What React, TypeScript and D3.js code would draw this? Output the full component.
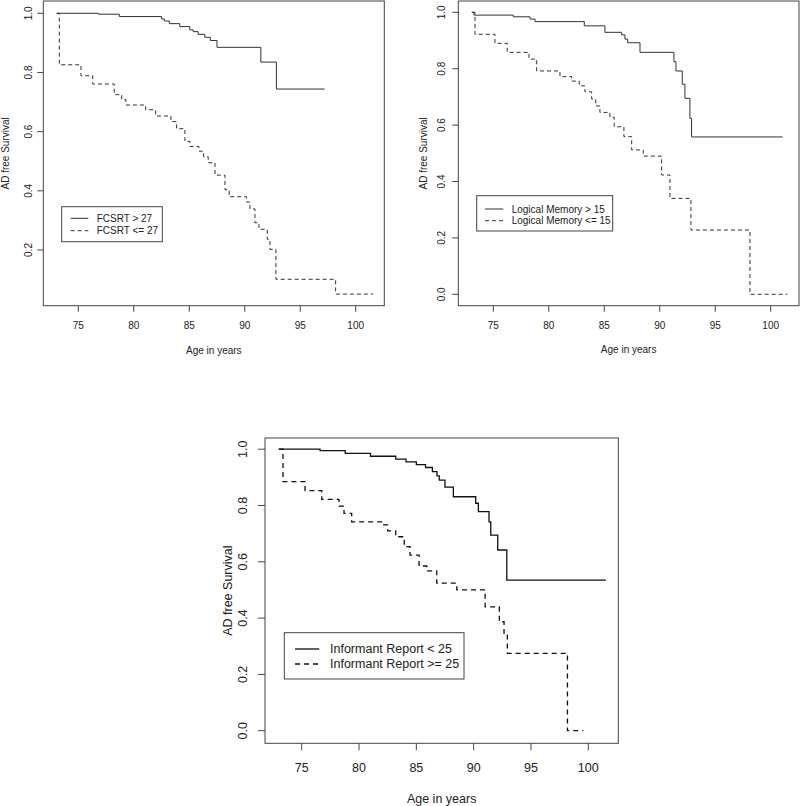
import React from "react";
import * as d3 from "d3";

// ---------- data ----------
const ageTicks = [75, 80, 85, 90, 95, 100];
const survTicksA = [0.2, 0.4, 0.6, 0.8, 1.0];
const survTicksB = [0.0, 0.2, 0.4, 0.6, 0.8, 1.0];

// Panel 1: FCSRT
const fcsrtHighAge = [73.05, 76.8, 78.7, 82.5, 82.75, 83.2, 84.15, 85.05, 85.35, 85.8, 86.4, 86.9, 87.5, 91.45, 92.85];
const fcsrtHighSurv = [1.0, 0.997, 0.989, 0.981, 0.974, 0.965, 0.955, 0.944, 0.938, 0.929, 0.919, 0.908, 0.885, 0.835, 0.744];
const fcsrtHighEnd = 97.2;
const fcsrtLowAge = [73.05, 73.29, 75.24, 76.3, 78.24, 78.91, 79.3, 81.07, 81.97, 83.35, 83.86, 84.61, 85.06, 85.87, 86.3, 86.71, 87.32, 88.22, 88.6, 90.17, 90.47, 90.92, 91.28, 92.03, 92.27, 92.81, 98.19];
const fcsrtLowSurv = [1.0, 0.826, 0.789, 0.761, 0.725, 0.708, 0.69, 0.674, 0.653, 0.634, 0.61, 0.567, 0.55, 0.534, 0.515, 0.495, 0.453, 0.404, 0.38, 0.362, 0.339, 0.292, 0.27, 0.236, 0.202, 0.101, 0.051];
const fcsrtLowEnd = 101.58;

// Panel 2: Logical Memory
const lmHighAge = [73.05, 73.26, 76.8, 78.31, 78.76, 83.2, 85.06, 86.57, 86.86, 87.11, 88.22, 91.28, 91.46, 92.03, 92.27, 92.72, 92.87];
const lmHighSurv = [1.0, 0.99, 0.984, 0.976, 0.967, 0.952, 0.929, 0.92, 0.905, 0.892, 0.858, 0.825, 0.792, 0.745, 0.695, 0.624, 0.558];
const lmHighEnd = 101.07;
const lmLowAge = [73.14, 73.35, 75.15, 76.26, 78.22, 78.91, 81.01, 82.06, 82.75, 83.26, 83.86, 84.23, 84.61, 85.51, 85.9, 86.77, 87.47, 88.51, 90.17, 90.92, 92.81, 98.13];
const lmLowSurv = [1.0, 0.922, 0.89, 0.858, 0.834, 0.792, 0.772, 0.756, 0.739, 0.718, 0.693, 0.668, 0.645, 0.628, 0.594, 0.559, 0.512, 0.49, 0.423, 0.34, 0.228, 0.0];
const lmLowEnd = 101.49;

// Panel 3: Informant Report
const irLowAge = [73.0, 76.6, 78.8, 81.0, 83.2, 84.1, 85.0, 85.8, 86.4, 86.8, 87.0, 87.5, 88.23, 90.18, 90.41, 91.34, 91.49, 92.1, 92.89];
const irLowSurv = [1.0, 0.995, 0.985, 0.975, 0.965, 0.955, 0.945, 0.935, 0.92, 0.905, 0.89, 0.865, 0.831, 0.808, 0.778, 0.742, 0.695, 0.642, 0.535];
const irLowEnd = 101.53;
const irHighAge = [73.0, 73.37, 75.29, 76.75, 78.25, 78.69, 79.36, 82.03, 82.5, 83.2, 83.95, 84.45, 85.24, 85.91, 86.78, 88.53, 91.0, 92.24, 92.65, 92.94, 98.18];
const irHighSurv = [1.0, 0.885, 0.853, 0.822, 0.798, 0.772, 0.742, 0.731, 0.71, 0.689, 0.654, 0.624, 0.585, 0.568, 0.524, 0.5, 0.44, 0.387, 0.346, 0.275, 0.0];
const irHighEnd = 99.57;

const legend1 = ["FCSRT > 27", "FCSRT <= 27"];
const legend2 = ["Logical Memory > 15", "Logical Memory <= 15"];
const legend3 = ["Informant Report < 25", "Informant Report >= 25"];

const xTitle = "Age in years";
const yTitle = "AD free Survival";

// ---------- layout / style ----------
type Series = { ages: number[]; surv: number[]; end: number; dashed: boolean };
type PanelCfg = {
  box: { l: number; t: number; r: number; b: number };
  xTickPx: [number, number];
  yTickPx: [number, number];
  yTickVals: [number, number];
  yTicks: number[];
  font: number;
  tickLen: number;
  yLabelX: number;
  xLabelY: number;
  yTitleX: number;
  xTitleY: number;
  stroke: number;
  color: string;
  dash: string;
  legend: { l: number; t: number; r: number; b: number; textX: number; row1: number; row2: number; lineX1: number; lineX2: number; labels: string[] };
  series: Series[];
};

const panels: PanelCfg[] = [
  {
    box: { l: 43.3, t: 1, r: 384.3, b: 305.7 },
    xTickPx: [78.3, 355.7],
    yTickPx: [250, 13.3],
    yTickVals: [0.2, 1.0],
    yTicks: survTicksA,
    font: 10,
    tickLen: 6,
    yLabelX: 28.3,
    xLabelY: 325,
    yTitleX: 5.5,
    xTitleY: 350,
    stroke: 1,
    color: "#333",
    dash: "4,3",
    legend: { l: 61.7, t: 206.7, r: 162.3, b: 241.7, textX: 96.7, row1: 218.3, row2: 230.7, lineX1: 70.7, lineX2: 88.3, labels: legend1 },
    series: [
      { ages: fcsrtHighAge, surv: fcsrtHighSurv, end: fcsrtHighEnd, dashed: false },
      { ages: fcsrtLowAge, surv: fcsrtLowSurv, end: fcsrtLowEnd, dashed: true },
    ],
  },
  {
    box: { l: 458.3, t: 1, r: 799, b: 305.7 },
    xTickPx: [493.3, 770.7],
    yTickPx: [294.3, 12.3],
    yTickVals: [0, 1],
    yTicks: survTicksB,
    font: 10,
    tickLen: 6,
    yLabelX: 441.7,
    xLabelY: 325,
    yTitleX: 423,
    xTitleY: 349,
    stroke: 1,
    color: "#333",
    dash: "4,3",
    legend: { l: 476.7, t: 195.7, r: 612.7, b: 231, textX: 511.7, row1: 209, row2: 220.7, lineX1: 485, lineX2: 503.3, labels: legend2 },
    series: [
      { ages: lmHighAge, surv: lmHighSurv, end: lmHighEnd, dashed: false },
      { ages: lmLowAge, surv: lmLowSurv, end: lmLowEnd, dashed: true },
    ],
  },
  {
    box: { l: 265, t: 438, r: 618.3, b: 743.3 },
    xTickPx: [301.7, 588.3],
    yTickPx: [730.7, 449.2],
    yTickVals: [0, 1],
    yTicks: survTicksB,
    font: 12.5,
    tickLen: 7,
    yLabelX: 243.3,
    xLabelY: 768.3,
    yTitleX: 228,
    xTitleY: 799,
    stroke: 1.3,
    color: "#111",
    dash: "5,4",
    legend: { l: 284.3, t: 632.7, r: 464, b: 679, textX: 330, row1: 649, row2: 664, lineX1: 295, lineX2: 319.3, labels: legend3 },
    series: [
      { ages: irLowAge, surv: irLowSurv, end: irLowEnd, dashed: false },
      { ages: irHighAge, surv: irHighSurv, end: irHighEnd, dashed: true },
    ],
  },
];

const fmt = d3.format(".1f");
const FONT = "'Liberation Sans', Arial, sans-serif";

function Panel({ cfg }: { cfg: PanelCfg }) {
  const x = d3.scaleLinear().domain([ageTicks[0], ageTicks[ageTicks.length - 1]]).range(cfg.xTickPx);
  const y = d3.scaleLinear().domain(cfg.yTickVals).range(cfg.yTickPx);
  const line = d3
    .line<[number, number]>()
    .x((d) => x(d[0]))
    .y((d) => y(d[1]))
    .curve(d3.curveStepAfter);
  const { box, legend } = cfg;
  const cx = (box.l + box.r) / 2;
  const cy = (box.t + box.b) / 2;
  return (
    <g fontFamily={FONT} fill="#222">
      <rect x={box.l} y={box.t} width={box.r - box.l} height={box.b - box.t} fill="none" stroke="#444" strokeWidth={1} />
      {cfg.series.map((s, i) => {
        const pts: [number, number][] = s.ages.map((a, j) => [a, s.surv[j]] as [number, number]);
        pts.push([s.end, s.surv[s.surv.length - 1]]);
        return (
          <path
            key={i}
            d={line(pts) || ""}
            fill="none"
            stroke={cfg.color}
            strokeWidth={cfg.stroke}
            strokeDasharray={s.dashed ? cfg.dash : undefined}
          />
        );
      })}
      {ageTicks.map((t) => (
        <g key={"x" + t}>
          <line x1={x(t)} x2={x(t)} y1={box.b} y2={box.b + cfg.tickLen} stroke="#444" />
          <text x={x(t)} y={cfg.xLabelY} fontSize={cfg.font} textAnchor="middle" dominantBaseline="central">
            {t}
          </text>
        </g>
      ))}
      {cfg.yTicks.map((t) => (
        <g key={"y" + t}>
          <line x1={box.l - cfg.tickLen} x2={box.l} y1={y(t)} y2={y(t)} stroke="#444" />
          <text
            transform={`translate(${cfg.yLabelX},${y(t)}) rotate(-90)`}
            fontSize={cfg.font}
            textAnchor="middle"
            dominantBaseline="central"
          >
            {fmt(t)}
          </text>
        </g>
      ))}
      <text x={cx} y={cfg.xTitleY} fontSize={cfg.font} textAnchor="middle" dominantBaseline="central">
        {xTitle}
      </text>
      <text
        transform={`translate(${cfg.yTitleX},${cy}) rotate(-90)`}
        fontSize={cfg.font}
        textAnchor="middle"
        dominantBaseline="central"
      >
        {yTitle}
      </text>
      <rect x={legend.l} y={legend.t} width={legend.r - legend.l} height={legend.b - legend.t} fill="white" stroke="#444" strokeWidth={1} />
      {[legend.row1, legend.row2].map((ry, i) => (
        <g key={"lg" + i}>
          <line
            x1={legend.lineX1}
            x2={legend.lineX2}
            y1={ry}
            y2={ry}
            stroke={cfg.color}
            strokeWidth={cfg.stroke}
            strokeDasharray={i === 1 ? cfg.dash : undefined}
          />
          <text x={legend.textX} y={ry} fontSize={cfg.font} dominantBaseline="central">
            {legend.labels[i]}
          </text>
        </g>
      ))}
    </g>
  );
}

export default function App() {
  return (
    <svg
      width={800}
      height={806}
      viewBox="0 0 800 806"
      style={{ position: "absolute", left: 0, top: 0, background: "white" }}
    >
      <rect x={0} y={0} width={800} height={806} fill="white" />
      {panels.map((p, i) => (
        <Panel key={i} cfg={p} />
      ))}
    </svg>
  );
}
